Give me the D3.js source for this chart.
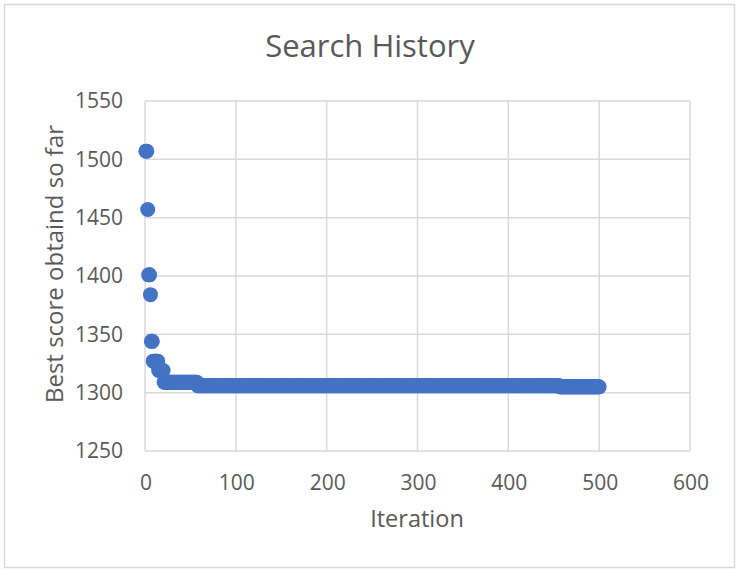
<!DOCTYPE html>
<meta charset="utf-8">
<style>
  body { margin: 0; background: #fff; }
  svg text { font-family: "Open Sans", sans-serif; fill: #595959; }
</style>
<body>
<div id="chart"></div>
<script src="https://d3js.org/d3.v7.min.js"></script>
<script>
  // best score so far, as runs: each run starts at runStart and holds runScore
  var runStart = [1, 3, 4, 6, 7, 9, 15, 21, 58, 457];
  var runScore = [1507, 1457, 1401, 1384, 1344, 1327, 1319, 1309, 1306, 1305];
  var lastIter = 500;
  var xTicks = [0, 100, 200, 300, 400, 500, 600];
  var yTicks = [1250, 1300, 1350, 1400, 1450, 1500, 1550];

  var width = 739, height = 572;
  var plot = {left: 145, right: 690, top: 101, bottom: 451};

  // one point per iteration
  var points = [];
  for (var r = 0; r < runStart.length; r++) {
    var end = r + 1 < runStart.length ? runStart[r + 1] - 1 : lastIter;
    for (var it = runStart[r]; it <= end; it++) {
      points.push({iter: it, score: runScore[r]});
    }
  }

  var svg = d3.select("#chart").append("svg")
    .attr("width", width)
    .attr("height", height);

  svg.append("rect")
    .attr("x", 4.5).attr("y", 4.5)
    .attr("width", 730).attr("height", 563)
    .attr("fill", "#fff")
    .attr("stroke", "#d9d9d9")
    .attr("stroke-width", 1.5);

  var x = d3.scaleLinear().domain([0, 600]).range([plot.left, plot.right]);
  var y = d3.scaleLinear().domain([1250, 1550]).range([plot.bottom, plot.top]);

  // gridlines
  svg.append("g").selectAll("line.h")
    .data(yTicks)
    .enter().append("line")
    .attr("x1", plot.left).attr("x2", plot.right)
    .attr("y1", d => y(d)).attr("y2", d => y(d))
    .attr("stroke", "#d9d9d9").attr("stroke-width", 1.5);

  svg.append("g").selectAll("line.v")
    .data(xTicks)
    .enter().append("line")
    .attr("x1", d => x(d)).attr("x2", d => x(d))
    .attr("y1", plot.top).attr("y2", plot.bottom)
    .attr("stroke", "#d9d9d9").attr("stroke-width", 1.5);

  // tick labels
  svg.append("g").selectAll("text")
    .data(yTicks)
    .enter().append("text")
    .attr("x", 123)
    .attr("y", d => y(d))
    .attr("dy", "0.35em")
    .attr("text-anchor", "end")
    .style("font-size", "21px")
    .text(d => d);

  svg.append("g").selectAll("text")
    .data(xTicks)
    .enter().append("text")
    .attr("x", d => x(d) + 1)
    .attr("y", 490)
    .attr("text-anchor", "middle")
    .style("font-size", "21px")
    .text(d => d);

  // points
  svg.append("g").selectAll("circle")
    .data(points)
    .enter().append("circle")
    .attr("cx", d => x(d.iter))
    .attr("cy", d => y(d.score))
    .attr("r", 7.5)
    .attr("fill", "#4472c4");

  // titles
  svg.append("text")
    .attr("x", 370).attr("y", 57)
    .attr("text-anchor", "middle")
    .style("font-size", "31px")
    .text("Search History");

  svg.append("text")
    .attr("x", 417).attr("y", 527)
    .attr("text-anchor", "middle")
    .style("font-size", "23.5px")
    .text("Iteration");

  svg.append("text")
    .attr("transform", "translate(63,264) rotate(-90)")
    .attr("text-anchor", "middle")
    .style("font-size", "24px")
    .text("Best score obtaind so far");
</script>
</body>
